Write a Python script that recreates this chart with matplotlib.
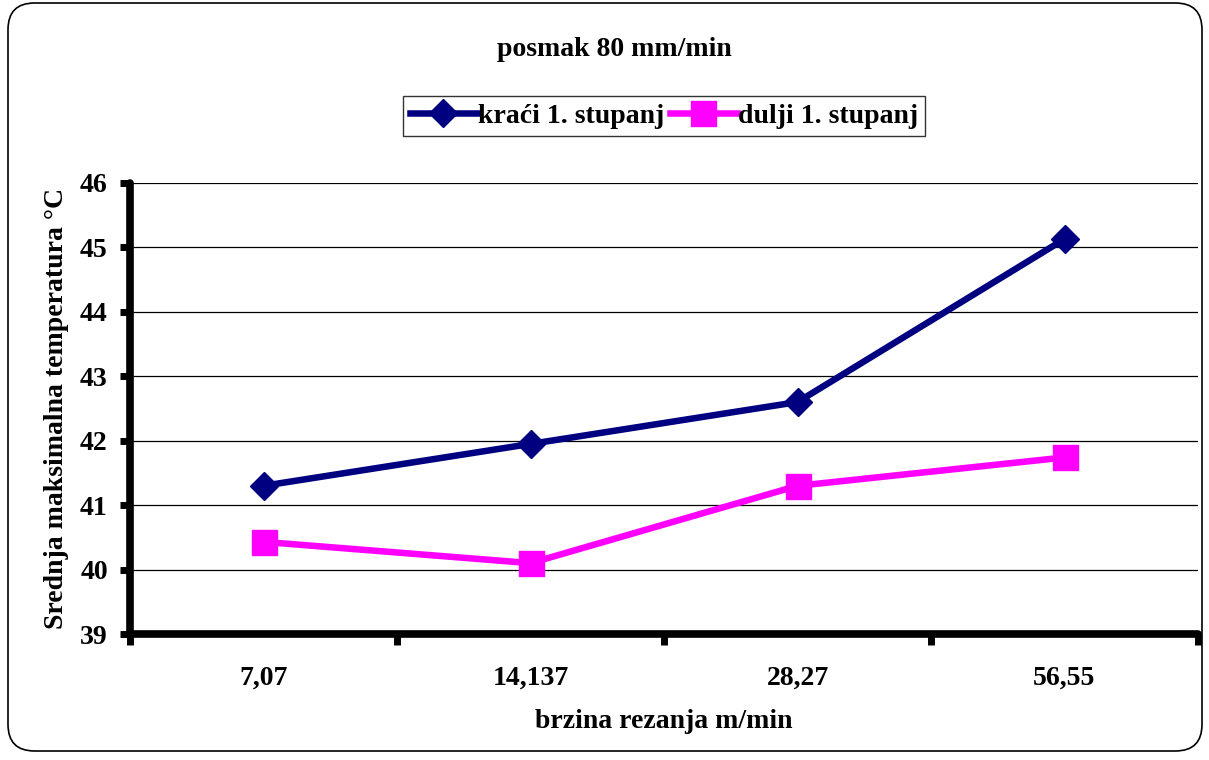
import matplotlib.pyplot as plt
from matplotlib.patches import FancyBboxPatch

# data
brzina = ['7,07', '14,137', '28,27', '56,55']
kraci = [41.3, 41.95, 42.6, 45.13]
dulji = [40.43, 40.1, 41.3, 41.74]

plt.rcParams['font.family'] = ['Liberation Serif', 'DejaVu Serif']
plt.rcParams['font.weight'] = 'bold'
plt.rcParams['axes.labelweight'] = 'bold'

fig = plt.figure(figsize=(12.09, 7.6), dpi=100)
W, H = 1209, 760
ax = fig.add_axes([130 / W, 1 - 634 / H, (1198 - 130) / W, (634 - 183) / H])

# rounded outer frame
frame = FancyBboxPatch((8 / W, 9 / H), (1202 - 8) / W, (757 - 9) / H,
                       boxstyle='round,pad=0,rounding_size=0.022',
                       transform=fig.transFigure, fill=False,
                       edgecolor='black', linewidth=1.2, mutation_aspect=W / H)
fig.patches.append(frame)

x = range(len(brzina))
ax.plot(x, kraci, color='#000080', lw=4.7, marker='D', ms=14, label='kraći 1. stupanj', zorder=3)
ax.plot(x, dulji, color='#FF00FF', lw=4.7, marker='s', ms=18, label='dulji 1. stupanj', zorder=3)

ax.set_xlim(-0.5, 3.5)
ax.set_ylim(39, 46)
ax.set_yticks(range(39, 47))
ax.set_xticks([-0.5, 0.5, 1.5, 2.5, 3.5])
ax.set_xticklabels([])
ax.set_xticks(list(x), minor=True)
ax.set_xticklabels(brzina, minor=True)
ax.tick_params(axis='x', which='minor', length=0, pad=23, labelsize=20)
ax.tick_params(axis='x', which='major', length=8, width=5, direction='out')
ax.tick_params(axis='y', length=7, width=5, direction='out', labelsize=20, pad=9)

ax.grid(axis='y', color='black', lw=0.9)
ax.set_axisbelow(True)
for s in ['top', 'right']:
    ax.spines[s].set_visible(False)
for s in ['left', 'bottom']:
    ax.spines[s].set_linewidth(5.5)
    ax.spines[s].set_capstyle('round')

ax.set_ylabel('Srednja maksimalna temperatura °C', fontsize=20, labelpad=8)
ax.set_xlabel('brzina rezanja m/min', fontsize=20, labelpad=13)

fig.text(614 / W, 1 - 50 / H, 'posmak 80 mm/min', ha='center', va='center', fontsize=20, fontweight='bold')

leg = fig.legend(loc='center', bbox_to_anchor=(664 / W, 1 - 116 / H), ncol=2,
                 fontsize=20, frameon=True, fancybox=False, edgecolor='black',
                 handlelength=2.4, handletextpad=0.05, columnspacing=0.2,
                 borderpad=0.25, borderaxespad=0)
leg.get_frame().set_linewidth(1.0)

fig.savefig('out.png', dpi=100)
